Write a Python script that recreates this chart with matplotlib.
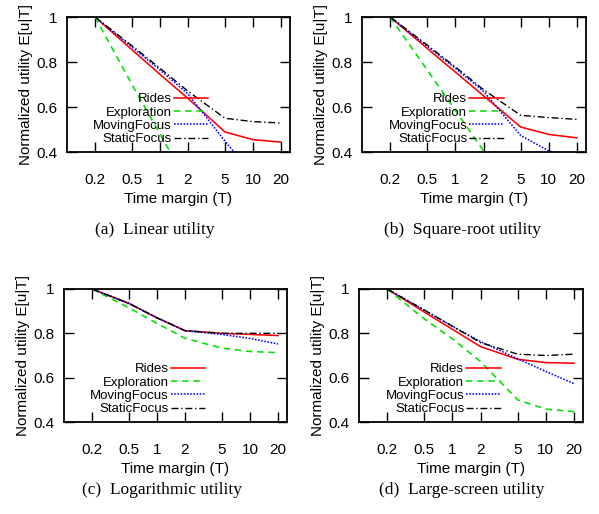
import matplotlib
matplotlib.use('Agg')
import matplotlib.pyplot as plt
from matplotlib.ticker import FixedLocator, NullLocator

plt.rcParams['font.family'] = ['Liberation Sans', 'DejaVu Sans']

margins = [0.2, 0.5, 1, 2, 5, 10, 20]
tick_labels = ['0.2', '0.5', '1', '2', '5', '10', '20']

# (a) linear utility
lin_rides = [1.0, 0.854, 0.745, 0.638, 0.489, 0.455, 0.444]
lin_explo = [1.0, 0.70, 0.48, 0.26, 0.05, 0.0, 0.0]
lin_moving = [1.0, 0.866, 0.765, 0.658, 0.448, 0.30, 0.25]
lin_static = [1.0, 0.872, 0.772, 0.670, 0.550, 0.535, 0.529]

# (b) square-root utility
sqrt_rides = [1.0, 0.86, 0.755, 0.650, 0.511, 0.478, 0.463]
sqrt_explo = [1.0, 0.764, 0.585, 0.405, 0.25, 0.15, 0.10]
sqrt_moving = [1.0, 0.87, 0.772, 0.670, 0.473, 0.405, 0.37]
sqrt_static = [1.0, 0.875, 0.778, 0.677, 0.563, 0.553, 0.545]

# (c) logarithmic utility
log_rides = [1.0, 0.935, 0.870, 0.812, 0.800, 0.795, 0.790]
log_explo = [1.0, 0.915, 0.845, 0.778, 0.733, 0.718, 0.713]
log_moving = [1.0, 0.935, 0.870, 0.812, 0.795, 0.777, 0.752]
log_static = [1.0, 0.935, 0.870, 0.812, 0.800, 0.800, 0.800]

# (d) large-screen utility
ls_rides = [1.0, 0.896, 0.818, 0.740, 0.683, 0.668, 0.665]
ls_explo = [1.0, 0.865, 0.775, 0.673, 0.500, 0.458, 0.447]
ls_moving = [1.0, 0.905, 0.832, 0.763, 0.685, 0.628, 0.573]
ls_static = [1.0, 0.905, 0.832, 0.758, 0.706, 0.700, 0.706]

panels = [
    ('(a)  Linear utility', lin_rides, lin_explo, lin_moving, lin_static),
    ('(b)  Square-root utility', sqrt_rides, sqrt_explo, sqrt_moving, sqrt_static),
    ('(c)  Logarithmic utility', log_rides, log_explo, log_moving, log_static),
    ('(d)  Large-screen utility', ls_rides, ls_explo, ls_moving, ls_static),
]

W, H = 599, 514
# axes boxes in pixels: left, top, right, bottom
boxes = [(67, 17, 290, 152), (362, 17, 586, 152), (64, 289, 287, 422), (359, 289, 583, 422)]
captions_xy = [(155, 230), (462, 230), (162, 490), (462, 490)]

fig = plt.figure(figsize=(W / 100, H / 100), dpi=100)

for (cap, rides, explo, moving, static), (l, t, r, b), (cx, cy) in zip(panels, boxes, captions_xy):
    ax = fig.add_axes([l / W, 1 - b / H, (r - l) / W, (b - t) / H])
    ax.plot(margins, rides, color='#ff0000', lw=1.15, label='Rides')
    ax.plot(margins, explo, color='#00e000', lw=1.15, ls=(0, (4, 3)), label='Exploration')
    ax.plot(margins, moving, color='#0000ff', lw=1.15, ls=(0, (1, 1)), label='MovingFocus')
    ax.plot(margins, static, color='black', lw=1.0, ls=(0, (5, 2, 1, 2)), label='StaticFocus')
    ax.set_xscale('log')
    ax.set_xlim(0.1, 25)
    ax.set_ylim(0.4, 1.0)
    ax.xaxis.set_major_locator(FixedLocator(margins))
    ax.xaxis.set_minor_locator(NullLocator())
    ax.set_xticklabels(tick_labels)
    ax.set_yticks([0.4, 0.6, 0.8, 1.0])
    ax.set_yticklabels(['0.4', '0.6', '0.8', '1'])
    ax.tick_params(axis='x', direction='in', top=True, length=7, width=1, pad=15, labelsize=11)
    ax.tick_params(axis='y', direction='in', right=True, length=7, width=1, pad=7, labelsize=11)
    for s in ax.spines.values():
        s.set_linewidth(1.3)
    ax.set_xlabel('Time margin (T)', fontsize=11, labelpad=4)
    ax.set_ylabel('Normalized utility E[u|T]', fontsize=11, labelpad=2)
    ax.legend(loc='lower right', bbox_to_anchor=(0.632, 0.05), frameon=False,
              markerfirst=False, fontsize=9.5, handlelength=2.6, handletextpad=0.15,
              labelspacing=0.08, borderpad=0, borderaxespad=0)
    fig.text(cx / W, 1 - cy / H, cap, ha='center', va='center',
             family='Liberation Serif', fontsize=12.5)

fig.savefig('out.png', dpi=100)
